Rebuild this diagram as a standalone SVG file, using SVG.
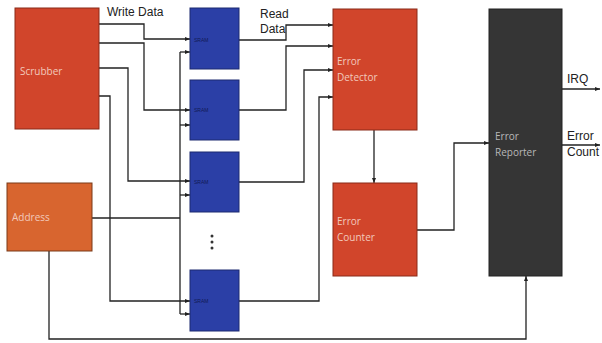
<svg xmlns="http://www.w3.org/2000/svg" width="602" height="343" viewBox="0 0 602 343">
<defs>
<marker id="ah" viewBox="0 0 10 10" refX="10" refY="5" markerWidth="5" markerHeight="5" orient="auto" markerUnits="userSpaceOnUse">
<path d="M0,1 L10,5 L0,9 z" fill="#222"/>
</marker>
<style>
.red{fill:#d1452b;stroke:#8a2a18;stroke-width:1}
.org{fill:#d8652f;stroke:#7a3a18;stroke-width:1}
.blue{fill:#2b3fa6;stroke:#1c2a70;stroke-width:1}
.dark{fill:#353535;stroke:#222;stroke-width:1}
.nl{font-family:"Open Sans","Liberation Sans",sans-serif;font-size:10px;fill:#f2c9bc}
.nld{font-family:"Open Sans","Liberation Sans",sans-serif;font-size:10px;fill:#b8b8b8}
.sl{font-family:"Liberation Sans",sans-serif;font-size:5px;fill:#111a55}
.lb{font-family:"Liberation Sans",Arial,sans-serif;font-size:12px;fill:#222}
.c{fill:none;stroke:#222;stroke-width:1.3}
.ca{fill:none;stroke:#222;stroke-width:1.3;marker-end:url(#ah)}
</style>
</defs>
<rect width="602" height="343" fill="#ffffff"/>
<g id="connectors">
<path class="ca" d="M99,24 H144 V39 H190"/>
<path class="ca" d="M99,43 H144 V110 H190"/>
<path class="ca" d="M99,68 H128 V181 H190"/>
<path class="ca" d="M99,96 H110 V301 H190"/>
<path class="c" d="M92,218 H180"/>
<path class="c" d="M180,52 V314"/>
<path class="ca" d="M180,52 H190"/>
<path class="ca" d="M180,125 H190"/>
<path class="ca" d="M180,195 H190"/>
<path class="ca" d="M180,314 H190"/>
<path class="ca" d="M49,251 V339 H526 V276"/>
<path class="ca" d="M239,40 H286 V25 H333"/>
<path class="ca" d="M239,110 H286 V46 H333"/>
<path class="ca" d="M239,182 H304 V70 H333"/>
<path class="ca" d="M239,301 H319 V97 H333"/>
<path class="ca" d="M374,130 V183"/>
<path class="ca" d="M417,230 H454 V143 H489"/>
<path class="ca" d="M562,89 H600"/>
<path class="ca" d="M562,145 H600"/>
</g>
<g id="labels">
<text class="lb" x="107" y="16">Write Data</text>
<text class="lb" x="260" y="18">Read</text>
<text class="lb" x="260" y="33">Data</text>
<text class="lb" x="567" y="83">IRQ</text>
<text class="lb" x="567" y="140">Error</text>
<text class="lb" x="567" y="156">Count</text>
</g>
<g id="scrubber"><rect class="red" x="15" y="8" width="84" height="121"/><text class="nl" x="20" y="75">Scrubber</text></g>
<g id="address"><rect class="org" x="7" y="183" width="85" height="68"/><text class="nl" x="12" y="221">Address</text></g>
<g id="sram1"><rect class="blue" x="190" y="8" width="49" height="61"/><text class="sl" x="194" y="42">SRAM</text></g>
<g id="sram2"><rect class="blue" x="190" y="80" width="49" height="60"/><text class="sl" x="194" y="112">SRAM</text></g>
<g id="sram3"><rect class="blue" x="190" y="152" width="49" height="60"/><text class="sl" x="194" y="184">SRAM</text></g>
<g id="sram4"><rect class="blue" x="190" y="270" width="49" height="61"/><text class="sl" x="194" y="303">SRAM</text></g>
<g id="dots"><circle cx="212" cy="236" r="1.5" fill="#333"/><circle cx="212" cy="242" r="1.5" fill="#333"/><circle cx="212" cy="248" r="1.5" fill="#333"/></g>
<g id="error-detector"><rect class="red" x="333" y="9" width="84" height="121"/><text class="nl" x="337" y="65">Error</text><text class="nl" x="337" y="81">Detector</text></g>
<g id="error-counter"><rect class="red" x="333" y="183" width="84" height="93"/><text class="nl" x="337" y="225">Error</text><text class="nl" x="337" y="241">Counter</text></g>
<g id="error-reporter"><rect class="dark" x="489" y="9" width="73" height="267"/><text class="nld" x="495" y="140">Error</text><text class="nld" x="495" y="156">Reporter</text></g>
</svg>
